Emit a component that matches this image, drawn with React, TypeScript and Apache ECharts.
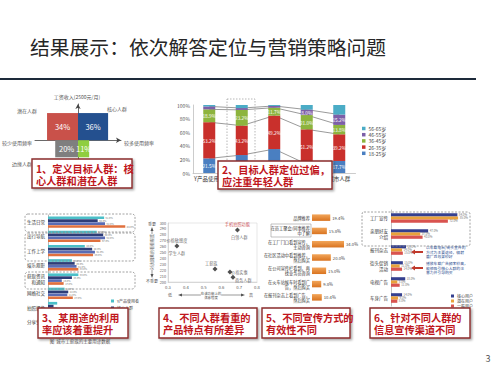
import React, { useEffect, useRef } from 'react';
import * as echarts from 'echarts';

const FONT = '"Noto Sans CJK SC", "Noto Sans", sans-serif';
const TITLE = '结果展示：依次解答定位与营销策略问题';

// Panel 1: quadrant
const quadLabels = ['34%', '36%', '20%', '11%'];
const quadX = [-0.72, 0.7, -0.53, 0.26];
const quadY = [0.75, 0.75, -0.47, -0.47];
const quadColors = ['#c9514a', '#24508f', '#7f7f7f', '#8fce3f'];

// Panel 2: age structure (100% stacked)
const ageCats = ['Y产品使用者', '目标人群', '核心人群', '潜在人群', '城市人群'];
const ageGroups = ['18-25岁', '26-35岁', '36-45岁', '46-55岁', '56-65岁'];
const age1825 = [21.5, 26.4, 35.2, 13.0, 17.7];
const age2635 = [53.2, 43.2, 49.2, 51.2, 39.2];
const age3645 = [18.9, 23.2, 11.7, 21.0, 13.8];
const age4655 = [4.3, 2.7, 2.5, 8.0, 15.2];
const age5665 = [2.1, 4.5, 1.4, 6.8, 14.1];
const ageColors = ['#4a7fc1', '#c9302c', '#8db43e', '#7c5fa8', '#4bacc6'];

// Panel 3: usage
const useCats = ['生活日常', '出行导航', '工作上学', '娱乐观影', '获取资讯\n和通知', '网络社交', '拍照摄像', '分享生活'];
const useSeries = ['Y产品使用者', '核心人群', '潜在人群', '城市工薪族'];
const use1 = [61, 53, 40, 26, 33, 18, 10, 8];
const use2 = [54, 60, 48, 29, 26, 22, 6, 6];
const use3 = [62, 62, 51, 31, 15, 21, 10, 9];
const use4 = [84, 57, 49, 33, 17, 27, 13, 12];
const useColors = ['#4bbfc8', '#2e3d78', '#5a6cb4', '#e0703e'];

// Panel 4: feature importance scatter
const featX = [0.35, 0.564, 0.69, 0.648, 0.665];
const featY = [261, 222, 288, 217, 208];
const featTop = ['价格敏感度', '工薪族', '手机拍照功能', '', ''];
const featBottom = ['学生人群', '', '白领人群', '价格实惠', '商务人群'];

// Panel 5: promotion effectiveness
const promoCats = [
  '品牌推荐',
  '在员工聚会/同事推荐\n中了解',
  '在工厂门口看到宣传，\n主动咨询',
  '在社区活动中看到推荐，\n然后购买',
  '在公司宣传栏看到，再\n找业务员咨询',
  '在火车站候车时看到广\n告，然后购买',
  '在报刊杂志上看到广告，\n然后购买',
];
const promoVals = [19.4, 15.8, 34.0, 20.0, 15.0, 9.8, 10.4];

// Panel 6: channels
const chanCats = ['工厂宣传', '亲朋好友\n介绍', '报刊杂志', '街头促销\n活动', '电视广告', '车身广告'];
const chanSeries = ['核心用户', '潜在用户', '一般用户'];
const chan1 = [84, 47, 19, 15, 18, 14];
const chan2 = [85, 37, 14, 11, 8, 9];
const chan3 = [72, 40, 15, 14, 11, 8];
const chanColors = ['#35408f', '#e9a23b', '#d9534f'];

const txt = (x: number, y: number, text: string, size: number, fill = '#555', align = 'center', extra: any = {}) => ({
  type: 'text',
  x,
  y,
  z: 50,
  style: {
    text,
    fontSize: size,
    fontFamily: FONT,
    fill,
    align,
    textAlign: align,
    verticalAlign: 'middle',
    textVerticalAlign: 'middle',
    ...extra,
  },
});

const callout = (x: number, y: number, w: number, h: number, text: string) => [
  {
    type: 'rect',
    z: 100,
    shape: { x, y, width: w, height: h },
    style: {
      fill: '#fff',
      stroke: '#8b2b2b',
      lineWidth: 1.4,
      shadowBlur: 2,
      shadowOffsetX: 1.5,
      shadowOffsetY: 1.5,
      shadowColor: 'rgba(0,0,0,0.35)',
    },
  },
  {
    type: 'text',
    z: 101,
    x: x + 4,
    y: y + h / 2 + 0.5,
    style: {
      text,
      fontSize: 10.2,
      fontWeight: 'bold',
      fontFamily: FONT,
      fill: '#c0161c',
      lineHeight: 12,
      align: 'left',
      textAlign: 'left',
      verticalAlign: 'middle',
      textVerticalAlign: 'middle',
    },
  },
];

const dashedBox = (x: number, y: number, w: number, h: number, r = 3) => ({
  type: 'rect',
  z: 40,
  shape: { x, y, width: w, height: h, r },
  style: { fill: 'none', stroke: '#8a8a8a', lineWidth: 0.8, lineDash: [2, 1.5] },
});

const leftArrow = (xHead: number, xTail: number, y: number) => ({
  type: 'polygon',
  z: 50,
  shape: {
    points: [
      [xHead, y],
      [xHead + 4, y - 2.6],
      [xHead + 4, y - 1.1],
      [xTail, y - 1.1],
      [xTail, y + 1.1],
      [xHead + 4, y + 1.1],
      [xHead + 4, y + 2.6],
    ],
  },
  style: { fill: '#c0392b' },
});

export default function App() {
  const ref = useRef<HTMLDivElement>(null);

  useEffect(() => {
    if (!ref.current) return;
    const chart = echarts.init(ref.current, undefined, { renderer: 'svg' });

    const ageData = [age1825, age2635, age3645, age4655, age5665];
    const cum: number[][] = [];
    let run = ageCats.map(() => 0);
    for (let s = 0; s < 4; s++) {
      run = run.map((v, i) => v + ageData[s][i]);
      cum.push(run.slice());
    }

    const noAxis = { show: false };
    const series: any[] = [];

    series.push({
      type: 'custom',
      xAxisIndex: 0,
      yAxisIndex: 0,
      z: 1,
      data: quadX.map((x, i) => [x, quadY[i]]),
      renderItem: (params: any, api: any) => {
        const i = params.dataIndex;
        const o = api.coord([0, 0]);
        const p = api.coord([api.value(0), api.value(1)]);
        const x = Math.min(o[0], p[0]);
        const y = Math.min(o[1], p[1]);
        const w = Math.abs(p[0] - o[0]);
        const h = Math.abs(p[1] - o[1]);
        return {
          type: 'group',
          children: [
            { type: 'rect', shape: { x, y, width: w, height: h }, style: { fill: quadColors[i] } },
            {
              type: 'text',
              style: {
                text: quadLabels[i],
                x: x + w / 2,
                y: y + h / 2,
                fill: '#fff',
                fontSize: 7.5,
                fontFamily: FONT,
                align: 'center',
                verticalAlign: 'middle',
                textAlign: 'center',
                textVerticalAlign: 'middle',
              },
            },
          ],
        };
      },
    });

    ageData.forEach((d, s) => {
      series.push({
        type: 'bar',
        name: ageGroups[s],
        stack: 'age',
        xAxisIndex: 1,
        yAxisIndex: 1,
        barWidth: 12,
        z: 3,
        data: d,
        itemStyle: { color: ageColors[s] },
        label: {
          show: s < 4,
          position: 'inside',
          fontSize: 4.8,
          color: '#fff',
          fontFamily: FONT,
          formatter: (p: any) => {
            // labels of the lowest segments of bars 2-4 sit behind the callout box
            if (s === 0 && p.dataIndex > 0 && p.dataIndex < 4) return '';
            return p.value >= 6 ? `${p.value.toFixed(1)}%` : '';
          },
        },
      });
    });
    cum.forEach((d, s) => {
      series.push({
        type: 'line',
        name: `sl${s}`,
        xAxisIndex: 1,
        yAxisIndex: 1,
        data: d,
        symbol: 'none',
        silent: true,
        z: 2,
        lineStyle: { color: '#555', width: 0.6 },
      });
    });

    [use1, use2, use3, use4].forEach((d, s) => {
      series.push({
        type: 'bar',
        name: useSeries[s],
        xAxisIndex: 2,
        yAxisIndex: 2,
        barWidth: 2.7,
        barGap: '8%',
        data: d,
        itemStyle: { color: useColors[s] },
        label: {
          show: true,
          position: 'right',
          distance: 1.5,
          fontSize: 2.5,
          lineHeight: 2.6,
          color: '#777',
          fontFamily: FONT,
          formatter: (p: any) => (p.dataIndex < 6 ? `${p.value.toFixed(1)}%` : ''),
        },
      });
    });

    series.push({
      type: 'scatter',
      xAxisIndex: 3,
      yAxisIndex: 3,
      symbol: 'diamond',
      symbolSize: 5,
      itemStyle: { color: '#222' },
      data: featX.map((x, i) => [x, featY[i]]),
      label: {
        show: true,
        position: 'inside',
        fontFamily: FONT,
        fontSize: 4.2,
        color: '#444',
        lineHeight: 6.5,
        formatter: (p: any) => {
          const i = p.dataIndex;
          if (i === 2) return `{r|${featTop[i]}}\n\n    ${featBottom[i]}`;
          if (i === 1) return `${featTop[i]}        \n\n`;
          if (i === 3) return `                    ${featBottom[i]}`;
          if (i === 4) return `{s|}\n{s|                      ${featBottom[i]}}`;
          return `${featTop[i]}\n\n${featBottom[i]}`;
        },
        rich: {
          r: { color: '#c0161c', fontSize: 4.2, fontFamily: FONT },
          s: { fontSize: 4.2, lineHeight: 4.5, color: '#444', fontFamily: FONT },
        },
      },
    });

    series.push({
      type: 'bar',
      name: 'promo',
      xAxisIndex: 4,
      yAxisIndex: 4,
      barWidth: 6.5,
      data: promoVals,
      itemStyle: {
        color: new echarts.graphic.LinearGradient(0, 0, 0, 1, [
          { offset: 0, color: '#f2a65a' },
          { offset: 1, color: '#d9731f' },
        ]),
      },
      label: {
        show: true,
        position: 'right',
        distance: 2,
        fontSize: 4.2,
        color: '#444',
        fontFamily: FONT,
        formatter: (p: any) => `${p.value.toFixed(1)}%`,
      },
    });

    [chan1, chan2, chan3].forEach((d, s) => {
      series.push({
        type: 'bar',
        name: chanSeries[s],
        xAxisIndex: 5,
        yAxisIndex: 5,
        barWidth: 3.2,
        barGap: '0%',
        data: d,
        itemStyle: { color: chanColors[s] },
        label: {
          show: true,
          position: 'right',
          distance: 1.5,
          fontSize: 2.9,
          lineHeight: 3,
          color: '#777',
          fontFamily: FONT,
          formatter: (p: any) => `${p.value.toFixed(1)}%`,
        },
      });
    });

    const catLabel = (size: number, extra: any = {}) => ({
      fontSize: size,
      color: '#333',
      fontFamily: FONT,
      ...extra,
    });

    const graphic: any[] = [
      txt(30, 46, TITLE, 19.8, '#262626', 'left'),
      { type: 'line', z: 50, shape: { x1: 0, y1: 79, x2: 476, y2: 79 }, style: { stroke: '#1d2a3a', lineWidth: 2 } },
      // panel 1 annotations
      txt(77, 96, '工资收入(2500元/月)', 5),
      txt(27, 110, '潜在人群', 5),
      txt(117, 108, '核心人群', 5),
      txt(17, 142, '较少使用频率', 5),
      txt(139, 142, '较多使用频率', 5),
      txt(22, 163, '边缘人群', 5),
      ...callout(32, 159, 100, 29, '1、定义目标人群：核\n心人群和潜在人群'),
      // panel 2
      { type: 'rect', z: 40, shape: { x: 227, y: 99, width: 28, height: 73 }, style: { fill: 'none', stroke: '#999', lineWidth: 0.7, lineDash: [1.5, 1.5] } },
      ...callout(218, 161, 114, 28, '2、目标人群定位过偏，\n应注重年轻人群'),
      // panel 3
      dashedBox(25, 214, 110, 18),
      dashedBox(25, 233, 110, 28),
      dashedBox(25, 272, 110, 17),
      txt(80, 341, '图  城市工薪族的主要用途数据', 4.5),
      ...callout(38, 308, 90, 30, '3、某用途的利用\n率应该着重提升'),
      // panel 4
      { type: 'line', z: 50, shape: { x1: 152, y1: 229, x2: 152, y2: 276 }, style: { stroke: '#555', lineWidth: 0.6 } },
      { type: 'polygon', z: 50, shape: { points: [[152, 227], [150.5, 231], [153.5, 231]] }, style: { fill: '#555' } },
      { type: 'polygon', z: 50, shape: { points: [[152, 278], [150.5, 274], [153.5, 274]] }, style: { fill: '#555' } },
      txt(152, 224, '重要', 4),
      txt(152, 281, '不重要', 4),
      {
        type: 'text',
        z: 51,
        x: 152,
        y: 252,
        rotation: Math.PI / 2,
        style: {
          text: '对该因素的看重程度',
          fontSize: 4,
          fontFamily: FONT,
          fill: '#555',
          backgroundColor: '#fff',
          align: 'center',
          textAlign: 'center',
          verticalAlign: 'middle',
          textVerticalAlign: 'middle',
        },
      },
      { type: 'line', z: 50, shape: { x1: 180, y1: 295, x2: 243, y2: 295 }, style: { stroke: '#555', lineWidth: 0.6 } },
      { type: 'polygon', z: 50, shape: { points: [[178, 295], [182, 293.5], [182, 296.5]] }, style: { fill: '#555' } },
      { type: 'polygon', z: 50, shape: { points: [[245, 295], [241, 293.5], [241, 296.5]] }, style: { fill: '#555' } },
      txt(170, 295, '低', 4),
      txt(251, 295, '高', 4),
      txt(211, 295.5, '在该功能上的\n满意程度', 3.4, '#555', 'center', { backgroundColor: '#fff', lineHeight: 4 }),
      ...callout(159, 308, 98, 30, '4、不同人群看重的\n产品特点有所差异'),
      // panel 5
      { type: 'rect', z: 40, shape: { x: 271, y: 224, width: 40, height: 13 }, style: { fill: 'none', stroke: '#999', lineWidth: 0.6 } },
      ...callout(262, 308, 88, 30, '5、不同宣传方式的\n有效性不同'),
      // panel 6
      dashedBox(362, 212, 108, 34, 2),
      leftArrow(411, 423, 252),
      leftArrow(411, 423, 268),
      txt(426, 252, '以车载电台/街头宣传的\n方式为主要途径，辐射\n面广且效果较好', 3.8, '#2a4d8f', 'left', { lineHeight: 4.6 }),
      txt(426, 268, '播放车载广告频率较高，\n能够吸引核心人群的注\n意力并引导购买', 3.8, '#2a4d8f', 'left', { lineHeight: 4.6 }),
      ...callout(370, 308, 100, 30, '6、针对不同人群的\n信息宣传渠道不同'),
      txt(488, 358, '3', 9, '#555'),
    ];

    const option: any = {
      animation: false,
      backgroundColor: '#fff',
      textStyle: { fontFamily: FONT },
      legend: [
        {
          data: ageGroups.slice().reverse(),
          orient: 'vertical',
          left: 357,
          top: 121,
          itemWidth: 3.5,
          itemHeight: 3.5,
          itemGap: 1.2,
          icon: 'rect',
          selectedMode: false,
          textStyle: { fontSize: 5, color: '#444', fontFamily: FONT, padding: [0, 0, 0, -2] },
        },
        {
          data: useSeries.slice(0, 2),
          orient: 'vertical',
          left: 106,
          top: 294,
          itemWidth: 3,
          itemHeight: 3,
          itemGap: 3,
          icon: 'rect',
          selectedMode: false,
          textStyle: { fontSize: 4, color: '#444', fontFamily: FONT, padding: [0, 0, 0, -2] },
        },
        {
          data: chanSeries,
          orient: 'vertical',
          left: 446,
          top: 289,
          itemWidth: 3,
          itemHeight: 3,
          itemGap: 1,
          icon: 'rect',
          selectedMode: false,
          textStyle: { fontSize: 4, color: '#444', fontFamily: FONT, padding: [0, 0, 0, -2] },
        },
      ],
      grid: [
        { left: 35, top: 104, width: 86, height: 58 },
        { left: 193, top: 105, width: 162.5, height: 68 },
        { left: 48, top: 215, width: 92, height: 114 },
        { left: 168, top: 223, width: 89, height: 59, show: true, borderColor: '#ccc', borderWidth: 0.5 },
        { left: 312, top: 211, width: 48, height: 93 },
        { left: 391, top: 210, width: 79, height: 96 },
      ],
      xAxis: [
        {
          type: 'value', gridIndex: 0, min: -1, max: 1,
          axisLine: { show: true, symbol: ['none', 'arrow'], symbolSize: [4, 5], lineStyle: { color: '#444', width: 0.8 } },
          axisTick: noAxis, axisLabel: noAxis, splitLine: noAxis,
        },
        {
          type: 'category', gridIndex: 1, data: ageCats,
          axisTick: noAxis,
          axisLine: { lineStyle: { color: '#aaa', width: 0.6 } },
          axisLabel: catLabel(5.5, {
            margin: 3,
            interval: 0,
            formatter: (v: string, i: number) => (i === 0 || i === ageCats.length - 1 ? v : ''),
          }),
        },
        { type: 'value', gridIndex: 2, min: 0, max: 100, show: false },
        {
          type: 'value', gridIndex: 3, min: 0.3, max: 0.8, interval: 0.1,
          axisLine: { lineStyle: { color: '#bbb', width: 0.5 } },
          axisTick: noAxis, splitLine: noAxis,
          axisLabel: { fontSize: 4.2, color: '#555', margin: 2.5, formatter: (v: number) => v.toFixed(1) },
        },
        { type: 'value', gridIndex: 4, min: 0, max: 51, show: false },
        { type: 'value', gridIndex: 5, min: 0, max: 100, show: false },
      ],
      yAxis: [
        {
          type: 'value', gridIndex: 0, min: -0.6, max: 1,
          axisLine: { show: true, symbol: ['none', 'arrow'], symbolSize: [4, 5], lineStyle: { color: '#444', width: 0.8 } },
          axisTick: noAxis, axisLabel: noAxis, splitLine: noAxis,
        },
        {
          type: 'value', gridIndex: 1, min: 0, max: 100, interval: 20,
          axisLine: { show: true, lineStyle: { color: '#aaa', width: 0.6 } },
          axisTick: noAxis, splitLine: noAxis,
          axisLabel: { fontSize: 5, color: '#555', margin: 3, formatter: '{value}%' },
        },
        {
          type: 'category', gridIndex: 2, data: useCats, inverse: true,
          axisTick: noAxis,
          axisLine: { lineStyle: { color: '#888', width: 0.6 } },
          axisLabel: catLabel(4.5, { margin: 3, lineHeight: 5.5, interval: 0 }),
        },
        {
          type: 'value', gridIndex: 3, min: 200, max: 300, interval: 10,
          axisLine: { show: true, lineStyle: { color: '#bbb', width: 0.5 } },
          axisTick: noAxis, splitLine: noAxis,
          axisLabel: { fontSize: 3.8, color: '#555', margin: 2 },
        },
        {
          type: 'category', gridIndex: 4, data: promoCats, inverse: true,
          axisTick: noAxis, axisLine: noAxis,
          axisLabel: catLabel(4.2, { margin: 2, lineHeight: 5, interval: 0 }),
        },
        {
          type: 'category', gridIndex: 5, data: chanCats, inverse: true,
          axisTick: noAxis,
          axisLine: { lineStyle: { color: '#999', width: 0.6 } },
          axisLabel: catLabel(4.5, { margin: 3, lineHeight: 5.5, interval: 0 }),
        },
      ],
      series,
      graphic,
    };

    chart.setOption(option);
    return () => chart.dispose();
  }, []);

  return (
    <div
      ref={ref}
      style={{ position: 'fixed', left: 0, top: 0, width: 500, height: 375, background: '#fff' }}
    />
  );
}
